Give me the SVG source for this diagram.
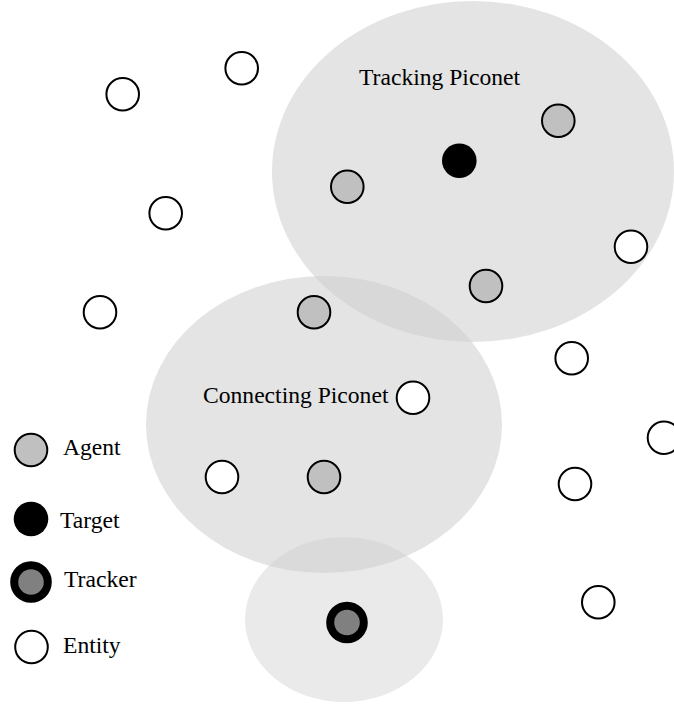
<svg xmlns="http://www.w3.org/2000/svg" width="674" height="706" viewBox="0 0 674 706">
<style>
.bg{fill:#fff}
.net{fill:#cecece;fill-opacity:0.55}
.net2{fill:#cecece;fill-opacity:0.42}
.n{stroke:#000;stroke-width:2}
.entity{fill:#fff}
.agent{fill:#c0c0c0}
.target{fill:#000}
.tracker{fill:#808080;stroke:#000;stroke-width:8}
text{font-family:"Liberation Serif","Times New Roman",serif;font-size:23.6px;fill:#000}
</style>
<rect class="bg" x="0" y="0" width="674" height="706"/>
<g id="piconets">
<ellipse id="tracking-piconet" class="net" cx="473" cy="171.5" rx="201" ry="170.5"/>
<ellipse id="connecting-piconet" class="net" cx="324" cy="424.5" rx="178" ry="148.5"/>
<ellipse id="tracker-piconet" class="net2" cx="344" cy="619.5" rx="99" ry="82.5"/>
</g>
<g id="labels">
<text x="359" y="85">Tracking Piconet</text>
<text x="203" y="403">Connecting Piconet</text>
</g>
<g id="connectors"></g>
<g id="e1"><circle class="n entity" cx="241.7" cy="68.3" r="16.3"/></g>
<g id="e2"><circle class="n entity" cx="122.7" cy="94.3" r="16.3"/></g>
<g id="e3"><circle class="n entity" cx="165.7" cy="213.3" r="16.3"/></g>
<g id="e4"><circle class="n entity" cx="100" cy="312.3" r="16.3"/></g>
<g id="a1"><circle class="n agent" cx="558.3" cy="120.7" r="16.3"/></g>
<g id="t1"><circle class="target" cx="459.3" cy="160.7" r="17.3"/></g>
<g id="a2"><circle class="n agent" cx="347.3" cy="186.7" r="16.3"/></g>
<g id="e5"><circle class="n entity" cx="631" cy="246.7" r="16.3"/></g>
<g id="a3"><circle class="n agent" cx="486" cy="286" r="16.3"/></g>
<g id="a4"><circle class="n agent" cx="314" cy="312.3" r="16.3"/></g>
<g id="e6"><circle class="n entity" cx="571.7" cy="358.3" r="16.3"/></g>
<g id="e7"><circle class="n entity" cx="413" cy="397.7" r="16.3"/></g>
<g id="e8"><circle class="n entity" cx="664" cy="437.7" r="16.3"/></g>
<g id="e9"><circle class="n entity" cx="222" cy="477" r="16.3"/></g>
<g id="a5"><circle class="n agent" cx="324" cy="477" r="16.3"/></g>
<g id="e10"><circle class="n entity" cx="575" cy="484" r="16.3"/></g>
<g id="e11"><circle class="n entity" cx="598.3" cy="602.3" r="16.3"/></g>
<g id="tracker1"><circle class="tracker" cx="347" cy="622.5" r="16.8"/></g>
<g id="legend">
<g id="legend-agent"><circle class="n agent" cx="31" cy="450" r="16.3"/><text x="63" y="455">Agent</text></g>
<g id="legend-target"><circle class="target" cx="31" cy="519" r="17.3"/><text x="60" y="528">Target</text></g>
<g id="legend-tracker"><circle class="tracker" cx="31" cy="582" r="16.8"/><text x="64" y="587">Tracker</text></g>
<g id="legend-entity"><circle class="n entity" cx="31.5" cy="647" r="16.3"/><text x="63" y="653">Entity</text></g>
</g>
</svg>
